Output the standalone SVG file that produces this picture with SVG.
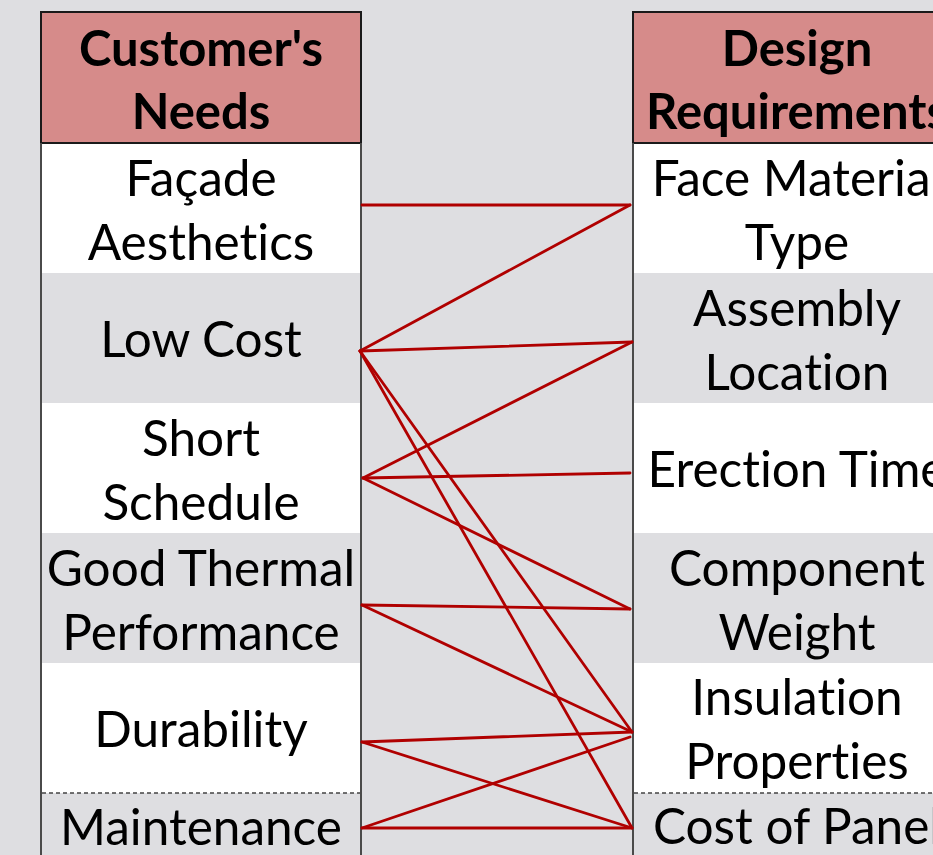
<svg xmlns="http://www.w3.org/2000/svg" width="933" height="855" viewBox="0 0 933 855">
  <style>
    .bg { fill: #dedee1; }
    .white { fill: #ffffff; }
    .head { fill: #d68b8a; stroke: #1a1a1a; stroke-width: 2; }
    .side { stroke: #4a4a4a; stroke-width: 2; fill: none; }
    .dash { stroke: #444444; stroke-width: 1.5; stroke-dasharray: 4 3; fill: none; }
    .ht { font-family: Lato, "Open Sans", sans-serif; font-weight: bold; font-size: 49px; fill: #000; text-anchor: middle; font-variant-ligatures: none; }
    .t { font-family: Lato, "Open Sans", sans-serif; font-size: 49.5px; fill: #000; text-anchor: middle; font-variant-ligatures: none; }
    .link { stroke: #b00000; stroke-width: 2.8; fill: none; stroke-linecap: round; }
  </style>

  <rect class="bg" x="0" y="0" width="933" height="855"/>

  <!-- Left column: customer's needs -->
  <g id="needs-header">
    <rect class="head" x="41" y="12" width="320" height="131"/>
    <text class="ht" x="201" y="66">Customer's</text>
    <text class="ht" x="201" y="129">Needs</text>
  </g>
  <g id="need-facade">
    <rect class="white" x="42" y="144" width="318" height="129"/>
    <text class="t" x="201" y="196">Façade</text>
    <text class="t" x="201" y="260">Aesthetics</text>
  </g>
  <g id="need-low-cost">
    <text class="t" x="201" y="357">Low Cost</text>
  </g>
  <g id="need-short-schedule">
    <rect class="white" x="42" y="403" width="318" height="130"/>
    <text class="t" x="201" y="456">Short</text>
    <text class="t" x="201" y="520">Schedule</text>
  </g>
  <g id="need-thermal">
    <text class="t" x="201" y="586">Good Thermal</text>
    <text class="t" x="201" y="650">Performance</text>
  </g>
  <g id="need-durability">
    <rect class="white" x="42" y="663" width="318" height="130"/>
    <text class="t" x="201" y="747">Durability</text>
  </g>
  <g id="need-maintenance">
    <line class="dash" x1="42" y1="793" x2="360" y2="793"/>
    <text class="t" x="201" y="845">Maintenance</text>
  </g>
  <line class="side" x1="41" y1="143" x2="41" y2="855"/>
  <line class="side" x1="361" y1="143" x2="361" y2="855"/>

  <!-- Right column: design requirements -->
  <g id="req-header">
    <rect class="head" x="633" y="12" width="330" height="131"/>
    <text class="ht" x="797" y="66">Design</text>
    <text class="ht" x="797" y="129">Requirements</text>
  </g>
  <g id="req-face-material">
    <rect class="white" x="634" y="144" width="299" height="129"/>
    <text class="t" x="797" y="196">Face Material</text>
    <text class="t" x="797" y="260">Type</text>
  </g>
  <g id="req-assembly">
    <text class="t" x="797" y="326">Assembly</text>
    <text class="t" x="797" y="390">Location</text>
  </g>
  <g id="req-erection">
    <rect class="white" x="634" y="403" width="299" height="130"/>
    <text class="t" x="797" y="487">Erection Time</text>
  </g>
  <g id="req-weight">
    <text class="t" x="797" y="586">Component</text>
    <text class="t" x="797" y="650">Weight</text>
  </g>
  <g id="req-insulation">
    <rect class="white" x="634" y="663" width="299" height="130"/>
    <text class="t" x="797" y="715">Insulation</text>
    <text class="t" x="797" y="779">Properties</text>
  </g>
  <g id="req-cost">
    <line class="dash" x1="634" y1="793" x2="933" y2="793"/>
    <text class="t" x="797" y="844">Cost of Panel</text>
  </g>
  <line class="side" x1="633" y1="143" x2="633" y2="855"/>

  <!-- Need-to-requirement links -->
  <g id="connectors">
    <line class="link" x1="362" y1="205" x2="630" y2="205"/>
    <line class="link" x1="360" y1="351" x2="630" y2="205"/>
    <line class="link" x1="360" y1="351" x2="632" y2="342"/>
    <line class="link" x1="360" y1="351" x2="632" y2="732"/>
    <line class="link" x1="360" y1="351" x2="632" y2="828"/>
    <line class="link" x1="363" y1="478" x2="632" y2="342"/>
    <line class="link" x1="363" y1="478" x2="630" y2="473"/>
    <line class="link" x1="363" y1="478" x2="630" y2="609"/>
    <line class="link" x1="362" y1="605" x2="630" y2="609"/>
    <line class="link" x1="362" y1="605" x2="632" y2="732"/>
    <line class="link" x1="362" y1="742" x2="632" y2="732"/>
    <line class="link" x1="362" y1="742" x2="632" y2="828"/>
    <line class="link" x1="362" y1="828" x2="630" y2="737"/>
    <line class="link" x1="362" y1="828" x2="632" y2="828"/>
  </g>
</svg>
